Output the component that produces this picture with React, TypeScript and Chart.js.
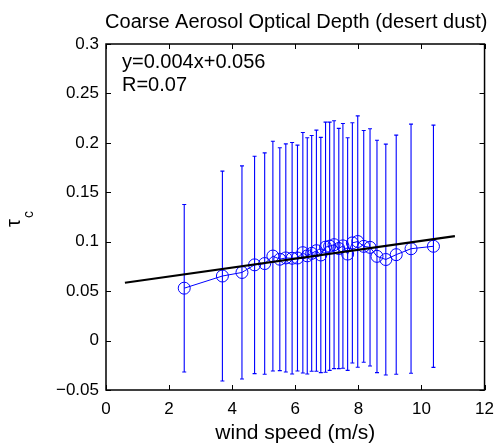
import React, { useEffect, useRef } from "react";
import { Chart, registerables } from "chart.js";

Chart.register(...registerables);

// ---- data ----
const windSpeed = [
  2.48, 3.69, 4.31, 4.71, 5.03, 5.29, 5.51, 5.7, 5.9, 6.07, 6.24, 6.38, 6.52, 6.67, 6.81,
  6.96, 7.09, 7.23, 7.38, 7.51, 7.66, 7.81, 7.98, 8.17, 8.37, 8.59, 8.87, 9.2, 9.67, 10.38,
];
const tauMean = [
  0.053, 0.0653, 0.0689, 0.0766, 0.0779, 0.0855, 0.0823, 0.0836, 0.0833, 0.0835, 0.0889,
  0.0857, 0.0882, 0.0909, 0.0866, 0.0945, 0.0955, 0.097, 0.0931, 0.0958, 0.0875, 0.0988,
  0.1002, 0.0953, 0.0943, 0.0852, 0.082, 0.0869, 0.0929, 0.0954,
];
const tauHigh = [
  0.1377, 0.1714, 0.1767, 0.1865, 0.1899, 0.2017, 0.195, 0.199, 0.2004, 0.1977, 0.2105,
  0.2051, 0.2075, 0.2129, 0.2055, 0.221, 0.221, 0.2223, 0.2146, 0.2196, 0.2051, 0.2203,
  0.2273, 0.2125, 0.2142, 0.2027, 0.1987, 0.2078, 0.2189, 0.2179,
];
const tauLow = [
  -0.0318, -0.0409, -0.0389, -0.0334, -0.0341, -0.0308, -0.0304, -0.0318, -0.0338, -0.0308,
  -0.0328, -0.0338, -0.0311, -0.0311, -0.0324, -0.0321, -0.0301, -0.0284, -0.0284, -0.028,
  -0.0301, -0.0227, -0.027, -0.022, -0.0257, -0.0324, -0.0348, -0.0341, -0.0331, -0.0271,
];
const fitX = [0.6, 11.06];
const fitY = [0.0585, 0.1056];

const xTickLabels = ["0", "2", "4", "6", "8", "10", "12"];
const yTickLabels = ["\u22120.05", "0", "0.05", "0.1", "0.15", "0.2", "0.25", "0.3"];

const titleText = "Coarse Aerosol Optical Depth (desert dust)";
const xAxisLabel = "wind speed (m/s)";
const yAxisSymbol = "\u03c4";
const yAxisSub = "c";
const annotationLines = ["y=0.004x+0.056", "R=0.07"];

const FONT = "'Liberation Sans', Arial, Helvetica, sans-serif";
const BLUE = "#0000ff";

const decorPlugin = {
  id: "decor",
  beforeDatasetsDraw(chart: any) {
    const ctx: CanvasRenderingContext2D = chart.ctx;
    const x = chart.scales.x;
    const y = chart.scales.y;
    ctx.save();
    ctx.strokeStyle = BLUE;
    ctx.lineWidth = 1.1;
    for (let i = 0; i < windSpeed.length; i++) {
      const px = x.getPixelForValue(windSpeed[i]);
      const top = y.getPixelForValue(tauHigh[i]);
      const bot = y.getPixelForValue(tauLow[i]);
      ctx.beginPath();
      ctx.moveTo(px, top);
      ctx.lineTo(px, bot);
      ctx.moveTo(px - 2, top);
      ctx.lineTo(px + 2, top);
      ctx.moveTo(px - 2, bot);
      ctx.lineTo(px + 2, bot);
      ctx.stroke();
    }
    ctx.beginPath();
    ctx.restore();
  },
  afterDraw(chart: any) {
    const ctx: CanvasRenderingContext2D = chart.ctx;
    const { chartArea } = chart;
    const x = chart.scales.x;
    const y = chart.scales.y;
    const { left, right, top, bottom } = chartArea;
    ctx.save();
    ctx.beginPath();
    // box
    ctx.strokeStyle = "#000";
    ctx.lineWidth = 1.5;
    ctx.strokeRect(left, top, right - left, bottom - top);
    // inward ticks
    ctx.lineWidth = 1;
    ctx.beginPath();
    const tl = 5;
    x.ticks.forEach((t: any) => {
      const px = Math.round(x.getPixelForValue(t.value)) + 0.5;
      ctx.moveTo(px, bottom);
      ctx.lineTo(px, bottom - tl);
      ctx.moveTo(px, top);
      ctx.lineTo(px, top + tl);
    });
    y.ticks.forEach((t: any) => {
      const py = Math.round(y.getPixelForValue(t.value)) + 0.5;
      ctx.moveTo(left, py);
      ctx.lineTo(left + tl, py);
      ctx.moveTo(right, py);
      ctx.lineTo(right - tl, py);
    });
    ctx.stroke();
    ctx.beginPath();

    ctx.fillStyle = "#000";
    ctx.textBaseline = "alphabetic";
    // title
    ctx.font = `20px ${FONT}`;
    ctx.textAlign = "center";
    ctx.fillText(titleText, (left + right) / 2 + 1, 28);
    // x label
    ctx.font = `21px ${FONT}`;
    ctx.fillText(xAxisLabel, (left + right) / 2, 439);
    // annotation
    ctx.font = `20px ${FONT}`;
    ctx.textAlign = "left";
    ctx.fillText(annotationLines[0], left + 16, 68);
    ctx.fillText(annotationLines[1], left + 16, 91);
    // y label
    ctx.rotate(-Math.PI / 2);
    ctx.font = `20px ${FONT}`;
    ctx.fillText(yAxisSymbol, -227, 20);
    ctx.font = `14px ${FONT}`;
    ctx.fillText(yAxisSub, -218, 33);
    ctx.restore();
  },
};

export default function App() {
  const ref = useRef<HTMLCanvasElement | null>(null);
  useEffect(() => {
    if (!ref.current) return;
    const chart = new Chart(ref.current, {
      type: "scatter",
      data: {
        datasets: [
          {
            label: "fit",
            data: fitX.map((v, i) => ({ x: v, y: fitY[i] })),
            showLine: true,
            borderColor: "#000",
            borderWidth: 2.2,
            pointRadius: 0,
            fill: false,
          },
          {
            label: "mean",
            data: windSpeed.map((v, i) => ({ x: v, y: tauMean[i] })),
            showLine: true,
            borderColor: BLUE,
            borderWidth: 1,
            pointRadius: 6,
            pointBorderWidth: 1,
            pointBorderColor: BLUE,
            pointBackgroundColor: "rgba(0,0,0,0)",
            backgroundColor: "rgba(0,0,0,0)",
            fill: false,
          },
        ],
      },
      options: {
        animation: false,
        responsive: false,
        events: [],
        layout: { padding: { left: 0, right: 13, top: 44, bottom: 0 } },
        plugins: { legend: { display: false }, tooltip: { enabled: false }, title: { display: false } },
        scales: {
          x: {
            type: "linear",
            min: 0,
            max: 12,
            grid: { display: false, drawTicks: false },
            border: { display: false },
            ticks: {
              stepSize: 2,
              padding: 9,
              color: "#000",
              font: { family: FONT, size: 17 },
              maxRotation: 0,
              callback: (_v: any, i: number) => xTickLabels[i],
            },
            afterFit: (s: any) => {
              s.height = 53;
            },
          },
          y: {
            type: "linear",
            min: -0.05,
            max: 0.3,
            grid: { display: false, drawTicks: false },
            border: { display: false },
            ticks: {
              stepSize: 0.05,
              padding: 7,
              color: "#000",
              font: { family: FONT, size: 17 },
              callback: (_v: any, i: number) => yTickLabels[i],
            },
            afterFit: (s: any) => {
              s.width = 106;
            },
          },
        },
      },
      plugins: [decorPlugin],
    } as any);
    return () => chart.destroy();
  }, []);
  return (
    <div style={{ position: "absolute", left: 0, top: 0, width: 503, height: 443, background: "#fff" }}>
      <canvas ref={ref} width={503} height={443} style={{ width: 503, height: 443 }} />
    </div>
  );
}
